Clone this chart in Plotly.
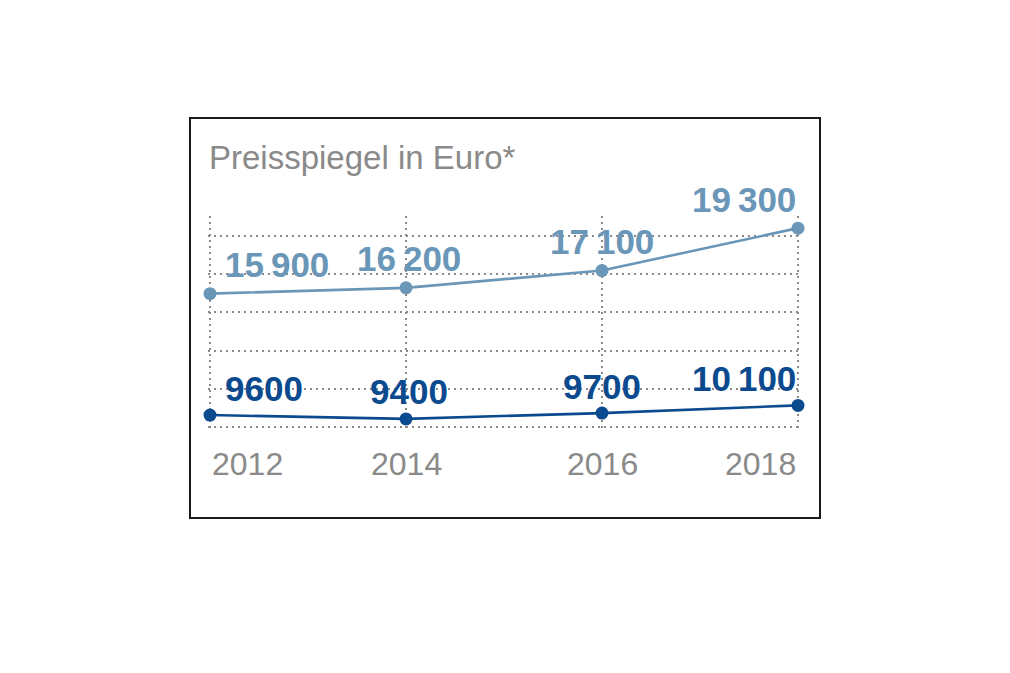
import plotly.graph_objects as go

# Preisspiegel in Euro* -- two price series, 2012 to 2018
years = [2012, 2014, 2016, 2018]
upper_values = [15900, 16200, 17100, 19300]
lower_values = [9600, 9400, 9700, 10100]
upper_labels = ["15\u2009900", "16\u2009200", "17\u2009100", "19\u2009300"]
lower_labels = ["9600", "9400", "9700", "10\u2009100"]
year_labels = ["2012", "2014", "2016", "2018"]
title_text = "Preisspiegel in Euro*"

W, H = 1010, 673
PAGE_MARGIN = 8  # the html body margin pushes the plot 8px right and down
UPPER_COLOR = "#6a96b8"
LOWER_COLOR = "#0b4a8e"
GRAY = "#8a8a8a"
FONT = "Liberation Sans, Arial, sans-serif"


def px_x(p):
    return (p - PAGE_MARGIN) / W


def px_y(p):
    return 1 - (p - PAGE_MARGIN) / H


fig = go.Figure()

for vals, color in [(upper_values, UPPER_COLOR), (lower_values, LOWER_COLOR)]:
    fig.add_trace(go.Scatter(x=years, y=vals, mode="lines+markers",
                             line=dict(color=color, width=2.6),
                             marker=dict(color=color, size=13),
                             cliponaxis=False, hoverinfo="skip", showlegend=False))

annotations = []
# first label sits right of its point, the middle ones are centred, the last one ends at it
anchors = ["left", "center", "center", "right"]
xshifts = [13, 3, 0, 0]
for labels, vals, color, yshift in [(upper_labels, upper_values, UPPER_COLOR, 29),
                                    (lower_labels, lower_values, LOWER_COLOR, 27)]:
    for i in range(len(years)):
        annotations.append(dict(x=years[i], y=vals[i], xref="x", yref="y", text="<b>" + labels[i] + "</b>",
                                showarrow=False, xanchor=anchors[i], yanchor="middle",
                                xshift=xshifts[i], yshift=yshift,
                                font=dict(family=FONT, size=35, color=color)))

for i in range(len(years)):
    annotations.append(dict(x=years[i], y=px_y(464), xref="x", yref="paper", text=year_labels[i],
                            showarrow=False, xanchor=anchors[i], yanchor="middle",
                            font=dict(family=FONT, size=32, color=GRAY)))

annotations.append(dict(x=px_x(207), y=px_y(157), xref="paper", yref="paper", text=title_text,
                        showarrow=False, xanchor="left", yanchor="middle",
                        font=dict(family=FONT, size=33, color=GRAY)))

fig.update_layout(
    width=W, height=H,
    margin=dict(l=0, r=0, t=0, b=0),
    paper_bgcolor="white", plot_bgcolor="white",
    annotations=annotations,
    shapes=[dict(type="rect", xref="paper", yref="paper",
                 x0=px_x(190), x1=px_x(820), y0=px_y(518), y1=px_y(118),
                 line=dict(color="#1a1a1a", width=2))],
    xaxis=dict(domain=[px_x(208.04), px_x(799.96)], range=[2011.98, 2018.02],
               tickvals=years, showticklabels=False, showgrid=True,
               gridcolor=GRAY, gridwidth=2, griddash="2px,4px",
               zeroline=False, showline=False, fixedrange=True),
    yaxis=dict(domain=[px_y(428.9), px_y(216)], range=[8880, 19930],
               tick0=8980, dtick=1982, showticklabels=False, showgrid=True,
               gridcolor=GRAY, gridwidth=2, griddash="2px,4px",
               zeroline=False, showline=False, fixedrange=True),
)

fig.write_html("out.html")
